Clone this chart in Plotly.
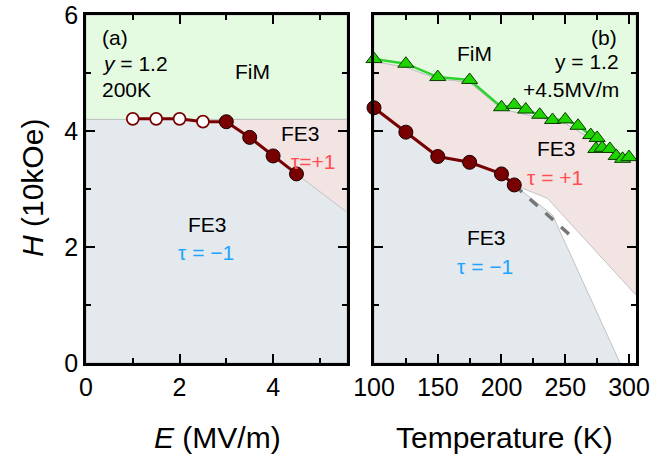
import plotly.graph_objects as go

# ---------------- data ----------------
# panel (a): H vs E at 200 K
E_open = [1.0, 1.5, 2.0, 2.5]
H_open = [4.21, 4.21, 4.21, 4.16]
E_fill = [3.0, 3.5, 4.0, 4.5]
H_fill = [4.16, 3.89, 3.57, 3.26]
E_range = [0, 5.58]
H_range = [0, 6]
FiM_H_a = 4.2            # FiM / FE3 boundary in (a)
E_pink_end = [5.58]      # extension of tau=+1 boundary to edge
H_pink_end = [2.6]

# panel (b): H vs T at +4.5 MV/m
T_tri = [100, 125, 150, 175, 200, 210, 219, 230, 240, 250, 260, 270, 275, 274, 279, 285, 290, 295, 300]
H_tri = [5.24, 5.16, 4.93, 4.88, 4.41, 4.45, 4.37, 4.28, 4.19, 4.20, 4.09, 3.93, 3.88, 3.69, 3.71, 3.69, 3.57, 3.52, 3.55]
T_circ = [100, 125, 150, 175, 200, 210]
H_circ = [4.40, 3.98, 3.56, 3.46, 3.26, 3.07]
T_dash = [210, 253]
H_dash = [3.07, 2.22]
T_range = [100, 305.5]
# phase boundaries (b)
T_fim = [100, 125, 150, 175, 200, 250, 272, 305.5]
H_fim = [5.20, 5.10, 4.90, 4.84, 4.38, 4.13, 3.85, 3.48]
T_pink_low = [210, 236, 305.5]
H_pink_low = [3.07, 2.84, 1.17]
T_blue_low = [210, 240, 293]
H_blue_low = [3.07, 2.55, 0.0]

GREEN_BG = "#e5fbe1"
PINK_BG = "#f3e4e4"
BLUE_BG = "#e3e9ed"
EDGE = "rgba(190,190,190,0.9)"
DARKRED = "#780000"
FONT = "Liberation Sans, Arial, sans-serif"

fig = go.Figure()

def poly(xs, ys, color, xa="x", ya="y"):
    fig.add_trace(go.Scatter(x=xs + [xs[0]], y=ys + [ys[0]], mode="lines",
                             fill="toself", fillcolor=color,
                             line=dict(color=EDGE, width=1),
                             xaxis=xa, yaxis=ya, hoverinfo="skip", showlegend=False))

# ---- panel (a) regions ----
poly([E_range[0], E_range[1], E_range[1], E_range[0]],
     [H_range[0], H_range[0], FiM_H_a, FiM_H_a], BLUE_BG)
poly([E_range[0], E_range[1], E_range[1], E_range[0]],
     [FiM_H_a, FiM_H_a, H_range[1], H_range[1]], GREEN_BG)
poly([E_fill[0]] + E_fill + E_pink_end + [E_range[1]],
     [FiM_H_a] + H_fill + H_pink_end + [FiM_H_a], PINK_BG)

# ---- panel (b) regions ----
poly([T_range[0]] + T_circ + T_blue_low + [T_range[0]],
     [H_range[0]] + H_circ + H_blue_low + [H_range[0]], BLUE_BG, "x2", "y2")
poly(T_fim + list(reversed(T_pink_low)) + list(reversed(T_circ[:-1])),
     H_fim + list(reversed(H_pink_low)) + list(reversed(H_circ[:-1])), PINK_BG, "x2", "y2")
poly(T_fim + [T_range[1], T_range[0]],
     H_fim + [H_range[1], H_range[1]], GREEN_BG, "x2", "y2")

# ---- panel (a) data ----
fig.add_trace(go.Scatter(x=E_open + E_fill, y=H_open + H_fill, mode="lines",
                         line=dict(color=DARKRED, width=3), showlegend=False))
fig.add_trace(go.Scatter(x=E_open, y=H_open, mode="markers",
                         marker=dict(symbol="circle", size=12, color="white",
                                     line=dict(color=DARKRED, width=1.8)),
                         showlegend=False))
fig.add_trace(go.Scatter(x=E_fill, y=H_fill, mode="markers",
                         marker=dict(symbol="circle", size=14, color=DARKRED,
                                     line=dict(color="#1a0000", width=1)),
                         showlegend=False))

# ---- panel (b) data ----
fig.add_trace(go.Scatter(x=T_dash, y=H_dash, mode="lines", xaxis="x2", yaxis="y2",
                         line=dict(color="#777777", width=3.5, dash="dash"), showlegend=False))
fig.add_trace(go.Scatter(x=T_circ, y=H_circ, mode="lines+markers", xaxis="x2", yaxis="y2",
                         line=dict(color=DARKRED, width=3),
                         marker=dict(symbol="circle", size=14, color=DARKRED,
                                     line=dict(color="#1a0000", width=1)),
                         cliponaxis=False, showlegend=False))
fig.add_trace(go.Scatter(x=T_tri, y=H_tri, mode="lines+markers", xaxis="x2", yaxis="y2",
                         line=dict(color="#2ed12e", width=2.5),
                         marker=dict(symbol="triangle-up", size=14, color="#1fd400",
                                     line=dict(color="#0b3a00", width=1)),
                         cliponaxis=False, showlegend=False))

# ---- annotations ----
RED_T = "#ff4f4f"
BLUE_T = "#1ea4ff"
ann = []
def txt(x, y, s, xa="x", ya="y", color="black", anchor="center", size=21):
    ann.append(dict(x=x, y=y, xref=xa, yref=ya, text=s, showarrow=False,
                    xanchor=anchor, yanchor="middle",
                    font=dict(family=FONT, size=size, color=color)))

txt(0.3, 5.62, "(a)", anchor="left")
txt(0.3, 5.17, "<i>y</i> = 1.2", anchor="left")
txt(0.3, 4.71, "200K", anchor="left")
txt(3.57, 5.02, "FiM")
txt(4.58, 3.95, "FE3")
txt(4.86, 3.47, "τ=+1", color=RED_T)
txt(2.59, 2.38, "FE3")
txt(2.57, 1.90, "τ = −1", color=BLUE_T)

txt(292, 5.62, "(b)", "x2", "y2", anchor="right")
txt(294, 5.19, "y = 1.2", "x2", "y2", anchor="right")
txt(293.5, 4.72, "+4.5MV/m", "x2", "y2", anchor="right")
txt(178.5, 5.33, "FiM", "x2", "y2")
txt(243, 3.69, "FE3", "x2", "y2")
txt(242, 3.19, "τ = +1", "x2", "y2", color=RED_T)
txt(188, 2.16, "FE3", "x2", "y2")
txt(187, 1.66, "τ = −1", "x2", "y2", color=BLUE_T)

# axis titles
ann.append(dict(x=217 / 651, y=1 - 437 / 455, xref="paper", yref="paper",
                text="<i>E</i> (MV/m)", showarrow=False, xanchor="center", yanchor="middle",
                font=dict(family=FONT, size=30, color="black")))
ann.append(dict(x=504 / 651, y=1 - 437 / 455, xref="paper", yref="paper",
                text="Temperature (K)", showarrow=False, xanchor="center", yanchor="middle",
                font=dict(family=FONT, size=30, color="black")))
ann.append(dict(x=32 / 651, y=1 - 188 / 455, xref="paper", yref="paper",
                text="<i>H</i> (10kOe)", showarrow=False, xanchor="center", yanchor="middle",
                textangle=-90, font=dict(family=FONT, size=30, color="black")))

axis_common = dict(showline=True, linecolor="black", linewidth=2.5, mirror="ticks",
                   ticks="inside", ticklen=9, tickwidth=2, tickcolor="black",
                   showgrid=False, zeroline=False, automargin=False,
                   ticklabeloverflow="allow",
                   tickfont=dict(family=FONT, size=25, color="black"))

ydom = [1 - 363 / 455, 1 - 15 / 455]
fig.update_layout(
    width=651, height=455,
    margin=dict(l=0, r=0, t=0, b=0),
    paper_bgcolor="white", plot_bgcolor="white",
    showlegend=False,
    annotations=ann,
    xaxis=dict(domain=[86 / 651, 347 / 651], range=E_range, tickvals=[0, 2, 4],
               anchor="y",
               minor=dict(ticks="inside", ticklen=5, tickwidth=2, tickcolor="black",
                          tickvals=[1, 3, 5]),
               **axis_common),
    yaxis=dict(domain=ydom, range=H_range, tickvals=[0, 2, 4, 6], anchor="x",
               minor=dict(ticks="inside", ticklen=5, tickwidth=2, tickcolor="black",
                          tickvals=[1, 3, 5]),
               **axis_common),
    xaxis2=dict(domain=[374 / 651, 636 / 651], range=T_range,
                tickvals=[100, 150, 200, 250, 300], anchor="y2",
                minor=dict(ticks="inside", ticklen=5, tickwidth=2, tickcolor="black",
                           tickvals=[125, 175, 225, 275]),
                **axis_common),
    yaxis2=dict(domain=ydom, range=H_range, tickvals=[0, 2, 4, 6], anchor="x2",
                showticklabels=False,
                minor=dict(ticks="inside", ticklen=5, tickwidth=2, tickcolor="black",
                           tickvals=[1, 3, 5]),
                **axis_common),
)

fig.write_html("out.html")
